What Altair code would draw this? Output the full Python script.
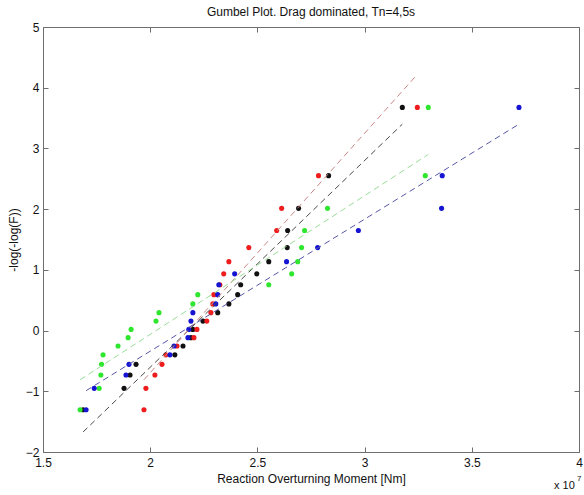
import altair as alt
import pandas as pd

# Gumbel reduced variate of each ranked sample
y_positions = [-1.305, -0.952, -0.732, -0.556, -0.400, -0.255, -0.117, 0.019, 0.156, 0.295,
               0.439, 0.592, 0.755, 0.934, 1.135, 1.367, 1.648, 2.013, 2.552, 3.676]

# Ranked reaction overturning moments (x 10^7 Nm) per series
black_x = [1.687, 1.878, 1.906, 1.934, 2.115, 2.153, 2.190, 2.199, 2.246, 2.315,
           2.367, 2.408, 2.422, 2.497, 2.553, 2.639, 2.641, 2.692, 2.832, 3.176]
red_x = [1.971, 1.980, 2.022, 2.055, 2.073, 2.125, 2.204, 2.218, 2.264, 2.283,
         2.292, 2.297, 2.325, 2.343, 2.367, 2.460, 2.590, 2.613, 2.785, 3.246]
green_x = [1.673, 1.762, 1.770, 1.773, 1.780, 1.850, 1.897, 1.911, 2.027, 2.041,
           2.199, 2.222, 2.553, 2.660, 2.688, 2.706, 2.720, 2.827, 3.283, 3.297]
blue_x = [1.701, 1.739, 1.887, 1.901, 2.092, 2.111, 2.176, 2.180, 2.190, 2.199,
          2.306, 2.315, 2.320, 2.394, 2.636, 2.781, 2.971, 3.359, 3.362, 3.720]

# Fitted (dashed) lines: end points
fit_series = ["black", "red", "green", "blue"]
fit_x_start = [1.687, 1.971, 1.673, 1.701]
fit_x_end = [3.176, 3.246, 3.297, 3.720]
fit_y_start = [-1.67, -0.81, -0.81, -0.99]
fit_y_end = [3.40, 4.22, 2.90, 3.40]

x_ticks = [1.5, 2, 2.5, 3, 3.5, 4]
y_ticks = [-2, -1, 0, 1, 2, 3, 4, 5]

series_names = ["black", "red", "green", "blue"]
point_colors = ["#111111", "#ee1c1c", "#2ee62e", "#1414d2"]
line_colors = ["#4a4a4a", "#cc8585", "#99dd99", "#5656a6"]

rows = []
for name, xs in zip(series_names, [black_x, red_x, green_x, blue_x]):
    for xv, yv in zip(xs, y_positions):
        rows.append({"series": name, "moment": xv, "gumbel": yv})
points_df = pd.DataFrame(rows)
points_df["order"] = range(len(points_df))

fit_rows = []
for name, x0, x1, y0, y1 in zip(fit_series, fit_x_start, fit_x_end, fit_y_start, fit_y_end):
    fit_rows.append({"series": name, "moment": x0, "gumbel": y0})
    fit_rows.append({"series": name, "moment": x1, "gumbel": y1})
fit_df = pd.DataFrame(fit_rows)

FONT = "Liberation Sans"
AXIS_COLOR = "#6e6e6e"
TEXT_COLOR = "#111111"

x_scale = alt.Scale(domain=[1.5, 4], nice=False, zero=False)
y_scale = alt.Scale(domain=[-2, 5], nice=False, zero=False)

common_axis = dict(grid=False, domain=False, tickSize=5, offset=-5, tickColor=AXIS_COLOR,
                   labelFont=FONT, labelFontSize=12, labelColor=TEXT_COLOR,
                   titleFont=FONT, titleFontSize=12, titleFontWeight="normal",
                   titleColor=TEXT_COLOR)

x_axis = alt.Axis(values=x_ticks, format="~g", title="Reaction Overturning Moment [Nm]",
                  labelPadding=5, labelFlush=False, titlePadding=5, **common_axis)
y_axis = alt.Axis(values=y_ticks, format="d", title="-log(-log(F))",
                  labelPadding=4, labelFlush=False, titlePadding=5, **common_axis)

points = alt.Chart(points_df).mark_circle(size=26, opacity=1).encode(
    x=alt.X("moment:Q", scale=x_scale, axis=x_axis),
    y=alt.Y("gumbel:Q", scale=y_scale, axis=y_axis),
    color=alt.Color("series:N", scale=alt.Scale(domain=series_names, range=point_colors), legend=None),
    order=alt.Order("order:Q"),
)

lines = alt.Chart(fit_df).mark_line(strokeDash=[6, 4], strokeWidth=1).encode(
    x=alt.X("moment:Q", scale=x_scale, axis=None),
    y=alt.Y("gumbel:Q", scale=y_scale, axis=None),
    color=alt.Color("series:N", scale=alt.Scale(domain=series_names, range=line_colors), legend=None),
    detail="series:N",
)

mirror_axis = dict(grid=False, domain=False, tickSize=5, offset=-5, tickColor=AXIS_COLOR,
                   labels=False, title=None)
frame = alt.Chart(fit_df).mark_point(opacity=0).encode(
    x=alt.X("moment:Q", scale=x_scale, axis=alt.Axis(orient="top", values=x_ticks, **mirror_axis)),
    y=alt.Y("gumbel:Q", scale=y_scale, axis=alt.Axis(orient="right", values=y_ticks, **mirror_axis)),
)

note_df = pd.DataFrame({"label": ["x 10"]})
exp_df = pd.DataFrame({"label": ["7"]})
note = alt.Chart(note_df).mark_text(font=FONT, fontSize=11, color=TEXT_COLOR, align="left",
                                    baseline="middle").encode(
    x=alt.value(511), y=alt.value(459), text="label:N")
exponent = alt.Chart(exp_df).mark_text(font=FONT, fontSize=8, color=TEXT_COLOR, align="left",
                                       baseline="middle").encode(
    x=alt.value(534), y=alt.value(452), text="label:N")

chart = alt.layer(points, lines, frame, note, exponent).resolve_scale(
    color="independent"
).resolve_axis(
    x="independent", y="independent"
).properties(
    width=536,
    height=425,
    autosize=alt.AutoSizeParams(type="none"),
    padding={"left": 43, "top": 27, "right": 5, "bottom": 43},
    background="white",
    title=alt.TitleParams("Gumbel Plot. Drag dominated, Tn=4,5s", font=FONT, fontSize=12,
                          fontWeight="normal", color=TEXT_COLOR, offset=2, anchor="middle"),
).configure_view(stroke=AXIS_COLOR, strokeWidth=1)

chart.save("out.html", embed_options={"renderer": "svg", "actions": False})
